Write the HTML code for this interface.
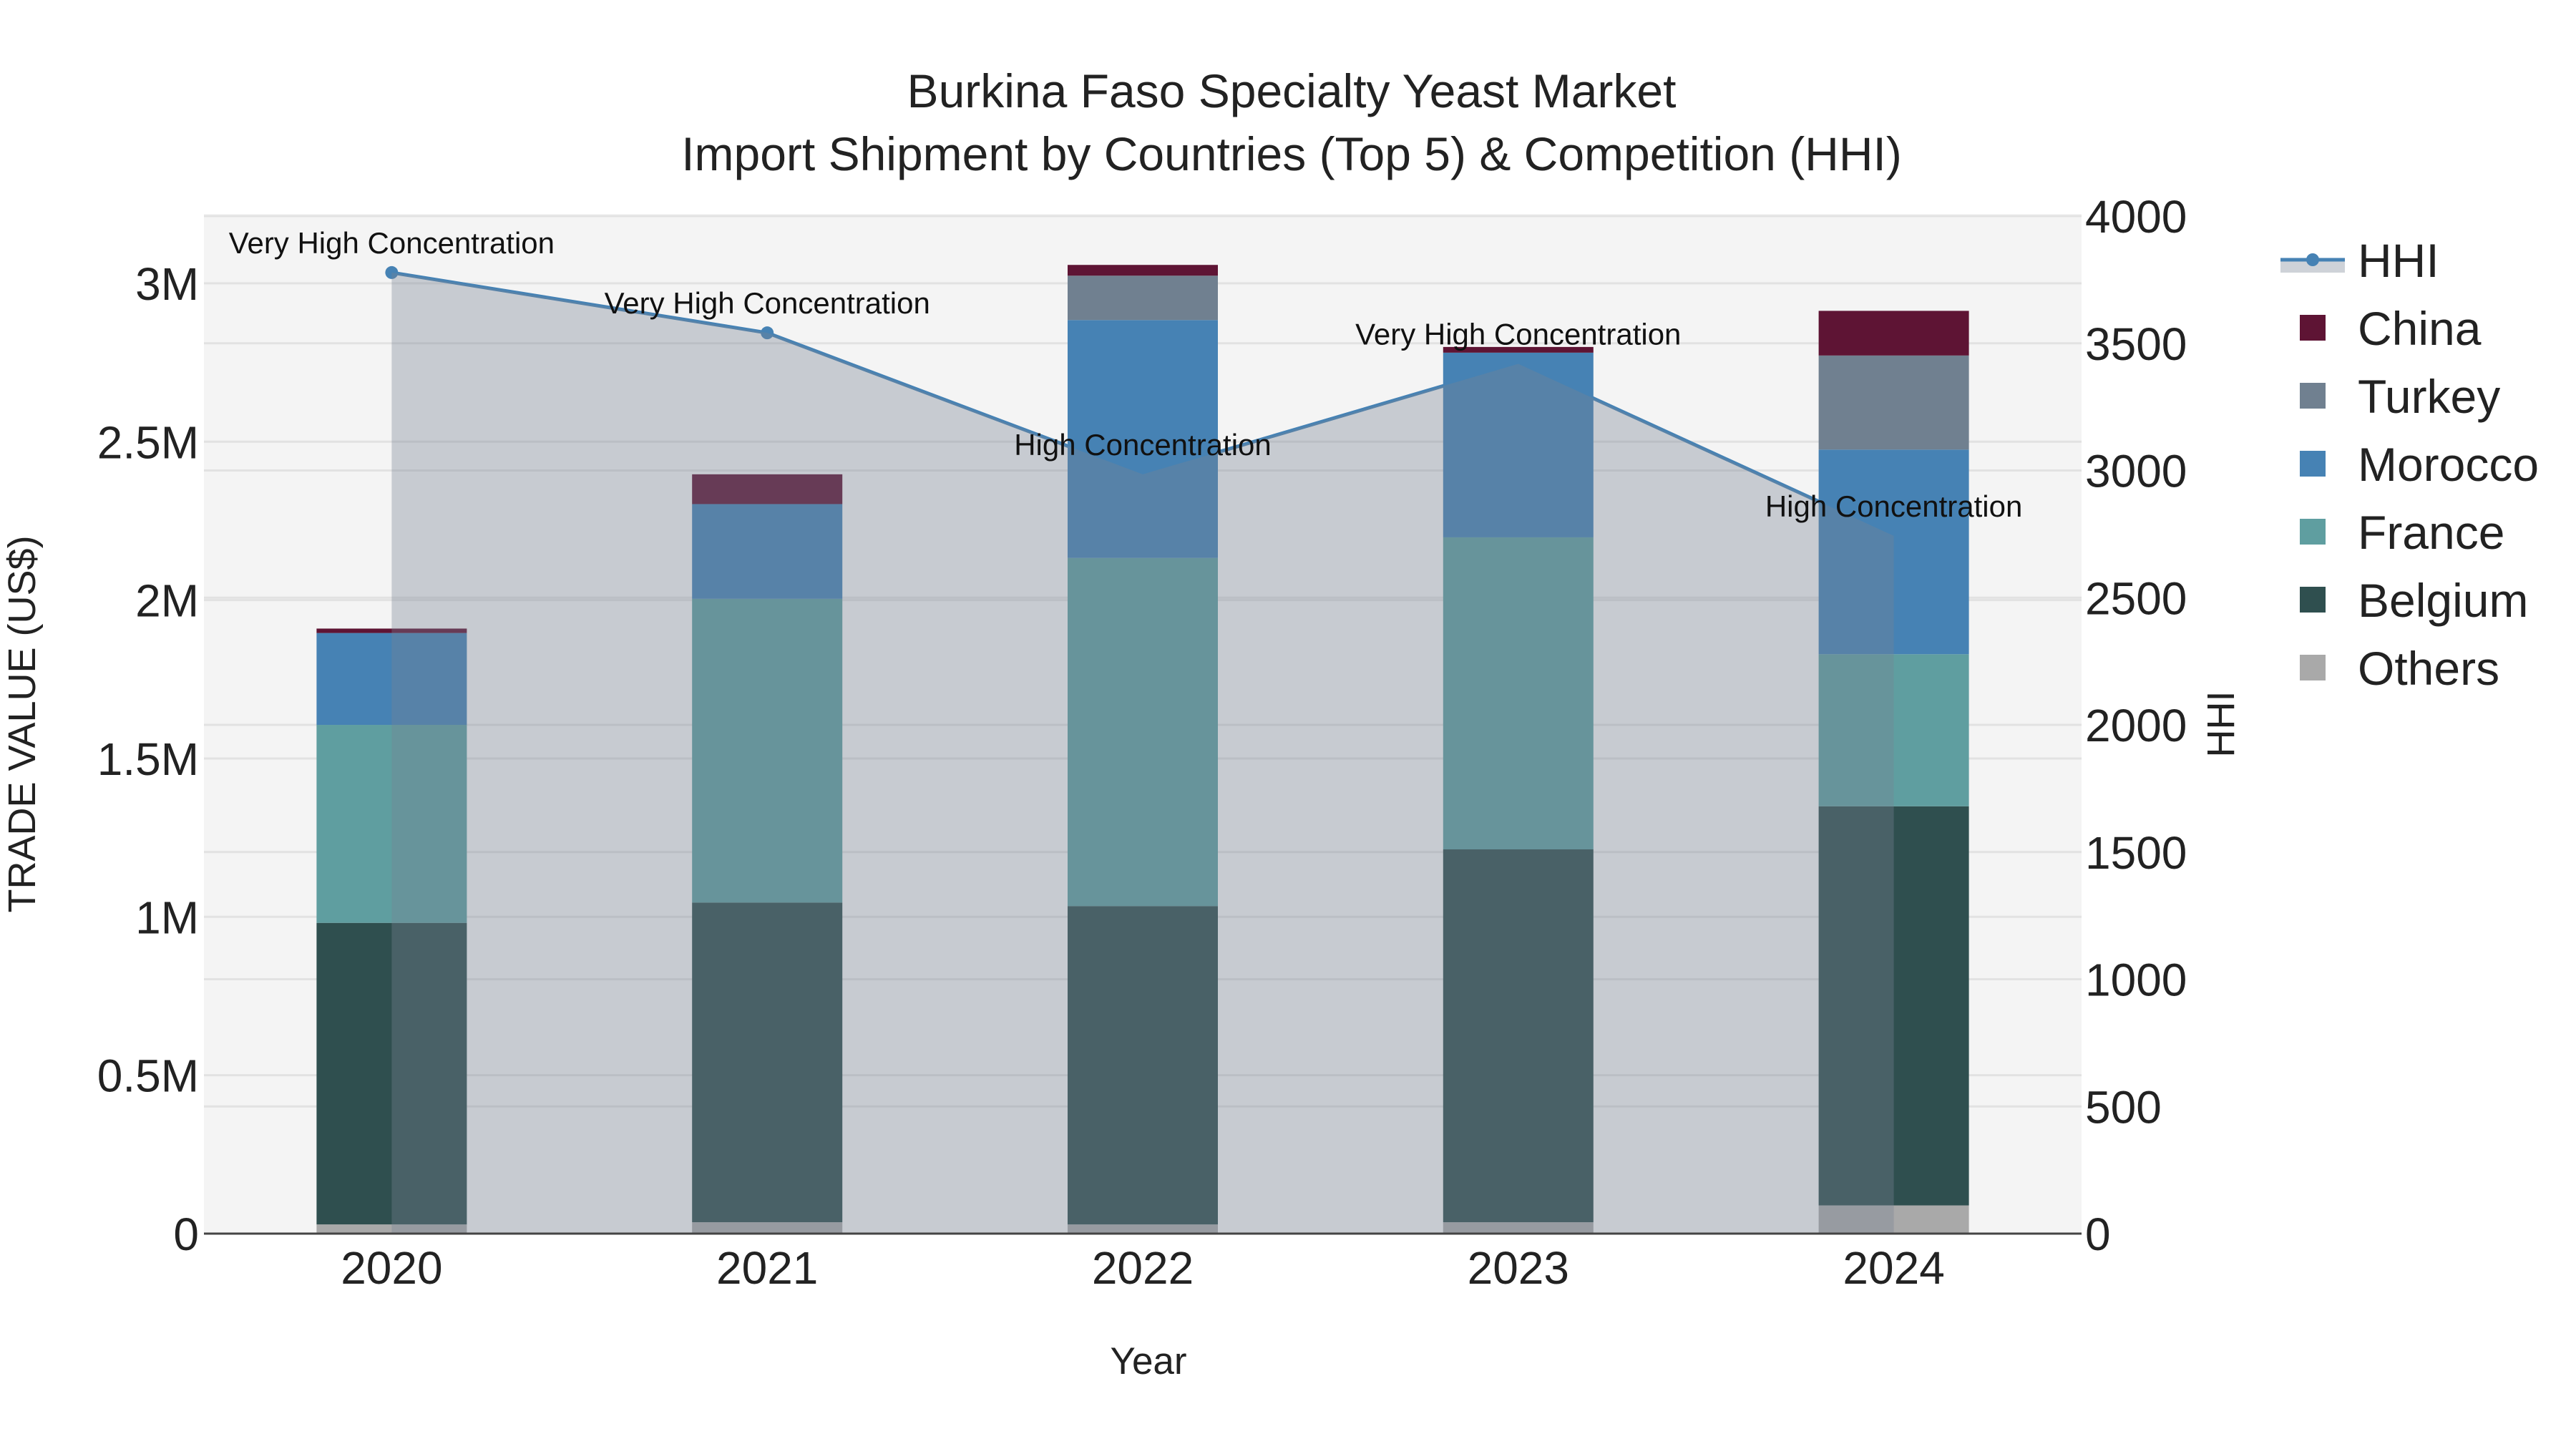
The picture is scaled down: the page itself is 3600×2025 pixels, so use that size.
<!DOCTYPE html>
<html><head><meta charset="utf-8">
<style>
html,body{margin:0;padding:0;background:#fff;}
svg{display:block;font-family:"Liberation Sans",Arial,sans-serif;}
</style></head>
<body>
<svg id="chart" width="3600" height="2025" viewBox="0 0 3600 2025" xmlns="http://www.w3.org/2000/svg">
  <rect width="3600" height="2025" fill="#ffffff"/>
  <text x="1805" y="150" font-size="66" text-anchor="middle" fill="#222">Burkina Faso Specialty Yeast Market</text>
  <text x="1805" y="238" font-size="66" text-anchor="middle" fill="#222">Import Shipment by Countries (Top 5) &amp; Competition (HHI)</text>
  <rect x="285" y="299" width="2624" height="1425" fill="#f4f4f4"/>
  <g id="grid"></g>
  <g id="hhiline"></g>
  <g id="bars"></g>
  <g id="hhifill"></g>
  <g id="annot"></g>
  <line x1="285" y1="1724" x2="2909" y2="1724" stroke="#444" stroke-width="3"/>
  <g id="ticks"></g>
  <text transform="translate(49,1012) rotate(-90)" font-size="54" text-anchor="middle" fill="#222">TRADE VALUE (US$)</text>
  <text transform="translate(3122,1012) rotate(-90)" font-size="54" text-anchor="middle" fill="#222">HHI</text>
  <text x="1605" y="1920" font-size="53" text-anchor="middle" fill="#222">Year</text>
  <g id="legend"></g>
</svg>
<script>
const years = ["2020","2021","2022","2023","2024"];
const seriesNames = ["Others","Belgium","France","Morocco","Turkey","China"];
const others  = [0.029, 0.036, 0.029, 0.036, 0.089];
const belgium = [0.952, 1.009, 1.005, 1.177, 1.260];
const france  = [0.625, 0.959, 1.099, 0.985, 0.480];
const morocco = [0.290, 0.299, 0.751, 0.583, 0.646];
const turkey  = [0.000, 0.000, 0.140, 0.000, 0.297];
const china   = [0.014, 0.094, 0.034, 0.018, 0.141];
const hhi = [3778, 3541, 2985, 3419, 2743];
const hhiLabels = ["Very High Concentration","Very High Concentration","High Concentration","Very High Concentration","High Concentration"];
const yTicks = [0, 0.5, 1, 1.5, 2, 2.5, 3];
const yTickLabels = ["0","0.5M","1M","1.5M","2M","2.5M","3M"];
const y2Ticks = [0, 500, 1000, 1500, 2000, 2500, 3000, 3500, 4000];

const NS = "http://www.w3.org/2000/svg";
const colors = {Others:"#a9a9a9",Belgium:"#2f4f4f",France:"#5f9ea0",Morocco:"#4682b4",Turkey:"#708090",China:"#5e1434"};
const L=285,R=2909,T=299,B=1724;
const band=(R-L)/years.length;
function xC(i){return L+band*(i+0.5);}
function yL(v){return B-v*442.7;}
function yR(v){return B-v*0.3555;}
function mk(tag,attrs,parent){const e=document.createElementNS(NS,tag);for(const k in attrs)e.setAttribute(k,attrs[k]);parent.appendChild(e);return e;}

const grid=document.getElementById('grid');
yTicks.forEach(t=>{
  const l=mk('line',{x1:L,x2:R,y1:yL(t),y2:yL(t),stroke:'#e2e2e2','stroke-width':3},grid);
  
  
});
y2Ticks.forEach(t=>{
  const l=mk('line',{x1:L,x2:R,y1:yR(t),y2:yR(t),stroke:'#e2e2e2','stroke-width':3},grid);
  
  
});

const hl=document.getElementById('hhiline');
const pts=hhi.map((v,i)=>xC(i)+','+yR(v)).join(' ');
const pl=mk('polyline',{points:pts,fill:'none',stroke:'#4682b4','stroke-width':5},hl);


hhi.forEach((v,i)=>{
  const c=mk('circle',{cx:xC(i),cy:yR(v),r:9,fill:'#4682b4'},hl);
  
  
});

const bars=document.getElementById('bars');
const data={Others:others,Belgium:belgium,France:france,Morocco:morocco,Turkey:turkey,China:china};
const bw=210;
years.forEach((yr,i)=>{
  let base=0;
  seriesNames.forEach(s=>{
    const v=data[s][i];
    if(v>0){
      const r=mk('rect',{x:xC(i)-bw/2,y:yL(base+v),width:bw,height:yL(base)-yL(base+v),fill:colors[s]},bars);
      
      
    }
    base+=v;
  });
});

const hf=document.getElementById('hhifill');
const fpts=xC(0)+','+B+' '+pts+' '+xC(years.length-1)+','+B;
const fp=mk('polygon',{points:fpts,fill:'rgba(120,130,148,0.36)'},hf);



const an=document.getElementById('annot');
hhi.forEach((v,i)=>{
  const t=mk('text',{x:xC(i),y:yR(v)-27,'font-size':42,'text-anchor':'middle',fill:'#111'},an);
  t.textContent=hhiLabels[i];
  
  
});

const tk=document.getElementById('ticks');
yTicks.forEach((t,i)=>{
  const e=mk('text',{x:278,y:yL(t)+23,'font-size':64,'text-anchor':'end',fill:'#222'},tk);
  e.textContent=yTickLabels[i];
  
  
});
y2Ticks.forEach(t=>{
  const e=mk('text',{x:2914,y:yR(t)+23,'font-size':64,'text-anchor':'start',fill:'#222'},tk);
  e.textContent=String(t);
  
  
});
years.forEach((yr,i)=>{
  const e=mk('text',{x:xC(i),y:1794,'font-size':64,'text-anchor':'middle',fill:'#222'},tk);
  e.textContent=yr;
  
  
});

const lg=document.getElementById('legend');
const g0=mk('g',{},lg);


mk('rect',{x:3187,y:363,width:90,height:18,fill:'rgba(120,130,148,0.36)'},g0);
mk('line',{x1:3187,x2:3277,y1:363,y2:363,stroke:'#4682b4','stroke-width':5},g0);
mk('circle',{cx:3232,cy:363,r:9,fill:'#4682b4'},g0);
const t0=mk('text',{x:3295,y:387,'font-size':66,fill:'#222'},g0);
t0.textContent='HHI';
const legOrder=["China","Turkey","Morocco","France","Belgium","Others"];
legOrder.forEach((s,i)=>{
  const cy=458+i*95;
  const g=mk('g',{},lg);
  
  
  mk('rect',{x:3214,y:cy-18,width:36,height:36,fill:colors[s]},g);
  const t=mk('text',{x:3295,y:cy+24,'font-size':66,fill:'#222'},g);
  t.textContent=s;
});
</script>
</body></html>
